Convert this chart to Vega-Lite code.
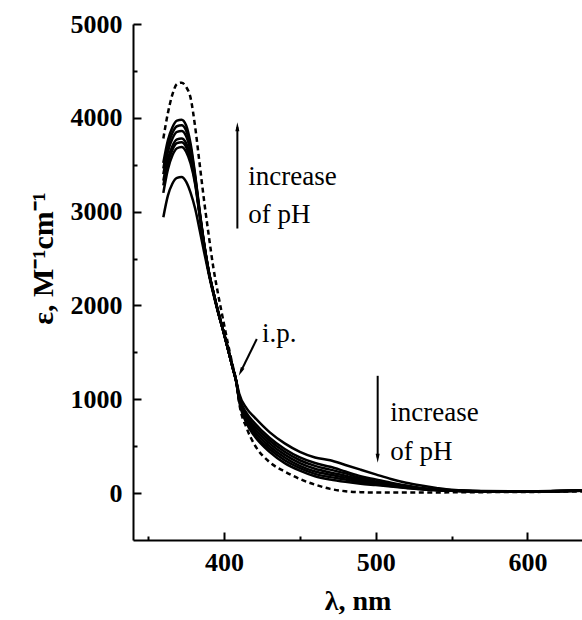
{
  "$schema": "https://vega.github.io/schema/vega-lite/v6.json",
  "autosize": "none",
  "width": 449,
  "height": 516,
  "padding": {"left": 133, "top": 24, "right": 0, "bottom": 80},
  "background": "white",
  "config": {
    "view": {"stroke": null},
    "axis": {
      "grid": false,
      "domainColor": "black",
      "domainWidth": 2,
      "tickColor": "black",
      "tickWidth": 2,
      "labelFont": "Liberation Serif",
      "labelFontSize": 26,
      "labelFontWeight": "bold",
      "labelColor": "black",
      "titleFont": "Liberation Serif",
      "titleFontWeight": "bold",
      "titleColor": "black",
      "labelOverlap": false,
      "labelFlush": false
    }
  },
  "datasets": {
    "curves": [
      {"s":"S1","nm":360,"e":3520},{"s":"S1","nm":363,"e":3760},{"s":"S1","nm":366,"e":3900},{"s":"S1","nm":369,"e":3970},{"s":"S1","nm":372,"e":3980},{"s":"S1","nm":375,"e":3920},{"s":"S1","nm":378,"e":3720},{"s":"S1","nm":381,"e":3390},{"s":"S1","nm":384,"e":3000},{"s":"S1","nm":387,"e":2650},{"s":"S1","nm":390,"e":2360},{"s":"S1","nm":393,"e":2140},{"s":"S1","nm":396,"e":1940},{"s":"S1","nm":400,"e":1700},{"s":"S1","nm":403,"e":1510},{"s":"S1","nm":406,"e":1320},{"s":"S1","nm":408,"e":1190},{"s":"S1","nm":410,"e":980},{"s":"S1","nm":415,"e":740},{"s":"S1","nm":420,"e":610},{"s":"S1","nm":430,"e":440},{"s":"S1","nm":440,"e":320},{"s":"S1","nm":450,"e":240},{"s":"S1","nm":460,"e":180},{"s":"S1","nm":470,"e":145},{"s":"S1","nm":480,"e":120},{"s":"S1","nm":490,"e":100},{"s":"S1","nm":500,"e":85},{"s":"S1","nm":510,"e":70},{"s":"S1","nm":520,"e":55},{"s":"S1","nm":530,"e":40},{"s":"S1","nm":540,"e":30},{"s":"S1","nm":550,"e":24},{"s":"S1","nm":570,"e":19},{"s":"S1","nm":600,"e":18},{"s":"S1","nm":636,"e":26},
      {"s":"S2","nm":360,"e":3460},{"s":"S2","nm":363,"e":3700},{"s":"S2","nm":366,"e":3840},{"s":"S2","nm":369,"e":3910},{"s":"S2","nm":372,"e":3920},{"s":"S2","nm":375,"e":3865},{"s":"S2","nm":378,"e":3680},{"s":"S2","nm":381,"e":3370},{"s":"S2","nm":384,"e":2990},{"s":"S2","nm":387,"e":2645},{"s":"S2","nm":390,"e":2360},{"s":"S2","nm":393,"e":2140},{"s":"S2","nm":396,"e":1940},{"s":"S2","nm":400,"e":1700},{"s":"S2","nm":403,"e":1510},{"s":"S2","nm":406,"e":1320},{"s":"S2","nm":408,"e":1190},{"s":"S2","nm":410,"e":990},{"s":"S2","nm":415,"e":760},{"s":"S2","nm":420,"e":630},{"s":"S2","nm":430,"e":470},{"s":"S2","nm":440,"e":350},{"s":"S2","nm":450,"e":265},{"s":"S2","nm":460,"e":205},{"s":"S2","nm":470,"e":170},{"s":"S2","nm":480,"e":145},{"s":"S2","nm":490,"e":115},{"s":"S2","nm":500,"e":95},{"s":"S2","nm":510,"e":75},{"s":"S2","nm":520,"e":58},{"s":"S2","nm":530,"e":42},{"s":"S2","nm":540,"e":32},{"s":"S2","nm":550,"e":25},{"s":"S2","nm":570,"e":19},{"s":"S2","nm":600,"e":18},{"s":"S2","nm":636,"e":26},
      {"s":"S3","nm":360,"e":3400},{"s":"S3","nm":363,"e":3640},{"s":"S3","nm":366,"e":3780},{"s":"S3","nm":369,"e":3850},{"s":"S3","nm":372,"e":3860},{"s":"S3","nm":375,"e":3805},{"s":"S3","nm":378,"e":3640},{"s":"S3","nm":381,"e":3350},{"s":"S3","nm":384,"e":2980},{"s":"S3","nm":387,"e":2640},{"s":"S3","nm":390,"e":2355},{"s":"S3","nm":393,"e":2140},{"s":"S3","nm":396,"e":1940},{"s":"S3","nm":400,"e":1700},{"s":"S3","nm":403,"e":1510},{"s":"S3","nm":406,"e":1320},{"s":"S3","nm":408,"e":1195},{"s":"S3","nm":410,"e":1000},{"s":"S3","nm":415,"e":780},{"s":"S3","nm":420,"e":660},{"s":"S3","nm":430,"e":500},{"s":"S3","nm":440,"e":380},{"s":"S3","nm":450,"e":290},{"s":"S3","nm":460,"e":230},{"s":"S3","nm":470,"e":195},{"s":"S3","nm":480,"e":165},{"s":"S3","nm":490,"e":130},{"s":"S3","nm":500,"e":105},{"s":"S3","nm":510,"e":82},{"s":"S3","nm":520,"e":62},{"s":"S3","nm":530,"e":45},{"s":"S3","nm":540,"e":33},{"s":"S3","nm":550,"e":26},{"s":"S3","nm":570,"e":20},{"s":"S3","nm":600,"e":18},{"s":"S3","nm":636,"e":27},
      {"s":"S4","nm":360,"e":3330},{"s":"S4","nm":363,"e":3560},{"s":"S4","nm":366,"e":3700},{"s":"S4","nm":369,"e":3770},{"s":"S4","nm":372,"e":3780},{"s":"S4","nm":375,"e":3730},{"s":"S4","nm":378,"e":3580},{"s":"S4","nm":381,"e":3330},{"s":"S4","nm":384,"e":2970},{"s":"S4","nm":387,"e":2635},{"s":"S4","nm":390,"e":2355},{"s":"S4","nm":393,"e":2140},{"s":"S4","nm":396,"e":1940},{"s":"S4","nm":400,"e":1700},{"s":"S4","nm":403,"e":1510},{"s":"S4","nm":406,"e":1320},{"s":"S4","nm":408,"e":1195},{"s":"S4","nm":410,"e":1010},{"s":"S4","nm":415,"e":800},{"s":"S4","nm":420,"e":690},{"s":"S4","nm":430,"e":530},{"s":"S4","nm":440,"e":410},{"s":"S4","nm":450,"e":320},{"s":"S4","nm":460,"e":260},{"s":"S4","nm":470,"e":220},{"s":"S4","nm":480,"e":185},{"s":"S4","nm":490,"e":145},{"s":"S4","nm":500,"e":115},{"s":"S4","nm":510,"e":90},{"s":"S4","nm":520,"e":68},{"s":"S4","nm":530,"e":48},{"s":"S4","nm":540,"e":35},{"s":"S4","nm":550,"e":27},{"s":"S4","nm":570,"e":20},{"s":"S4","nm":600,"e":18},{"s":"S4","nm":636,"e":27},
      {"s":"S5","nm":360,"e":3280},{"s":"S5","nm":363,"e":3520},{"s":"S5","nm":366,"e":3660},{"s":"S5","nm":369,"e":3730},{"s":"S5","nm":372,"e":3740},{"s":"S5","nm":375,"e":3690},{"s":"S5","nm":378,"e":3550},{"s":"S5","nm":381,"e":3310},{"s":"S5","nm":384,"e":2960},{"s":"S5","nm":387,"e":2630},{"s":"S5","nm":390,"e":2350},{"s":"S5","nm":393,"e":2135},{"s":"S5","nm":396,"e":1940},{"s":"S5","nm":400,"e":1700},{"s":"S5","nm":403,"e":1510},{"s":"S5","nm":406,"e":1320},{"s":"S5","nm":408,"e":1195},{"s":"S5","nm":410,"e":1020},{"s":"S5","nm":415,"e":820},{"s":"S5","nm":420,"e":720},{"s":"S5","nm":430,"e":560},{"s":"S5","nm":440,"e":440},{"s":"S5","nm":450,"e":350},{"s":"S5","nm":460,"e":290},{"s":"S5","nm":470,"e":250},{"s":"S5","nm":480,"e":210},{"s":"S5","nm":490,"e":160},{"s":"S5","nm":500,"e":125},{"s":"S5","nm":510,"e":100},{"s":"S5","nm":520,"e":75},{"s":"S5","nm":530,"e":50},{"s":"S5","nm":540,"e":38},{"s":"S5","nm":550,"e":28},{"s":"S5","nm":570,"e":20},{"s":"S5","nm":600,"e":18},{"s":"S5","nm":636,"e":28},
      {"s":"S6","nm":360,"e":3200},{"s":"S6","nm":363,"e":3450},{"s":"S6","nm":366,"e":3600},{"s":"S6","nm":369,"e":3675},{"s":"S6","nm":372,"e":3690},{"s":"S6","nm":375,"e":3640},{"s":"S6","nm":378,"e":3510},{"s":"S6","nm":381,"e":3290},{"s":"S6","nm":384,"e":2950},{"s":"S6","nm":387,"e":2625},{"s":"S6","nm":390,"e":2350},{"s":"S6","nm":393,"e":2135},{"s":"S6","nm":396,"e":1935},{"s":"S6","nm":400,"e":1700},{"s":"S6","nm":403,"e":1510},{"s":"S6","nm":406,"e":1320},{"s":"S6","nm":408,"e":1200},{"s":"S6","nm":410,"e":1030},{"s":"S6","nm":415,"e":850},{"s":"S6","nm":420,"e":750},{"s":"S6","nm":430,"e":590},{"s":"S6","nm":440,"e":470},{"s":"S6","nm":450,"e":380},{"s":"S6","nm":460,"e":320},{"s":"S6","nm":470,"e":280},{"s":"S6","nm":480,"e":230},{"s":"S6","nm":490,"e":180},{"s":"S6","nm":500,"e":145},{"s":"S6","nm":510,"e":110},{"s":"S6","nm":520,"e":80},{"s":"S6","nm":530,"e":55},{"s":"S6","nm":540,"e":40},{"s":"S6","nm":550,"e":30},{"s":"S6","nm":570,"e":20},{"s":"S6","nm":600,"e":18},{"s":"S6","nm":636,"e":28},
      {"s":"S7","nm":360,"e":2940},{"s":"S7","nm":363,"e":3170},{"s":"S7","nm":366,"e":3300},{"s":"S7","nm":369,"e":3360},{"s":"S7","nm":372,"e":3370},{"s":"S7","nm":375,"e":3320},{"s":"S7","nm":378,"e":3200},{"s":"S7","nm":381,"e":3030},{"s":"S7","nm":384,"e":2800},{"s":"S7","nm":387,"e":2560},{"s":"S7","nm":390,"e":2330},{"s":"S7","nm":393,"e":2120},{"s":"S7","nm":396,"e":1930},{"s":"S7","nm":400,"e":1700},{"s":"S7","nm":403,"e":1510},{"s":"S7","nm":406,"e":1320},{"s":"S7","nm":408,"e":1200},{"s":"S7","nm":410,"e":1060},{"s":"S7","nm":415,"e":900},{"s":"S7","nm":420,"e":810},{"s":"S7","nm":430,"e":650},{"s":"S7","nm":440,"e":530},{"s":"S7","nm":450,"e":440},{"s":"S7","nm":460,"e":380},{"s":"S7","nm":470,"e":350},{"s":"S7","nm":480,"e":300},{"s":"S7","nm":490,"e":250},{"s":"S7","nm":500,"e":200},{"s":"S7","nm":510,"e":150},{"s":"S7","nm":520,"e":110},{"s":"S7","nm":530,"e":80},{"s":"S7","nm":540,"e":55},{"s":"S7","nm":550,"e":35},{"s":"S7","nm":570,"e":22},{"s":"S7","nm":600,"e":20},{"s":"S7","nm":636,"e":30},
      {"s":"D","nm":360,"e":3780},{"s":"D","nm":363,"e":4050},{"s":"D","nm":366,"e":4250},{"s":"D","nm":369,"e":4360},{"s":"D","nm":372,"e":4375},{"s":"D","nm":375,"e":4330},{"s":"D","nm":378,"e":4210},{"s":"D","nm":381,"e":3900},{"s":"D","nm":384,"e":3500},{"s":"D","nm":387,"e":3100},{"s":"D","nm":390,"e":2740},{"s":"D","nm":393,"e":2400},{"s":"D","nm":396,"e":2130},{"s":"D","nm":400,"e":1800},{"s":"D","nm":403,"e":1560},{"s":"D","nm":406,"e":1340},{"s":"D","nm":408,"e":1200},{"s":"D","nm":410,"e":960},{"s":"D","nm":415,"e":690},{"s":"D","nm":420,"e":520},{"s":"D","nm":430,"e":330},{"s":"D","nm":440,"e":230},{"s":"D","nm":450,"e":150},{"s":"D","nm":460,"e":90},{"s":"D","nm":470,"e":45},{"s":"D","nm":480,"e":20},{"s":"D","nm":490,"e":10},{"s":"D","nm":500,"e":6},{"s":"D","nm":510,"e":5},{"s":"D","nm":520,"e":5},{"s":"D","nm":530,"e":5},{"s":"D","nm":540,"e":6},{"s":"D","nm":550,"e":8},{"s":"D","nm":570,"e":10},{"s":"D","nm":600,"e":12},{"s":"D","nm":636,"e":18}
    ],
    "labels": [
      {"nm": 416, "e": 3280, "t": "increase"},
      {"nm": 416, "e": 2874, "t": "of pH"},
      {"nm": 509.6, "e": 770, "t": "increase"},
      {"nm": 509.6, "e": 350, "t": "of pH"},
      {"nm": 425, "e": 1606, "t": "i.p."}
    ],
    "shafts": [
      {"nm": 408.8, "e": 2820, "nm2": 408.8, "e2": 3900},
      {"nm": 501.3, "e": 1250, "nm2": 501.3, "e2": 380},
      {"nm": 421.6, "e": 1642, "nm2": 411.0, "e2": 1293}
    ],
    "heads": [
      {"nm": 408.8, "e": 3905, "a": 0},
      {"nm": 501.3, "e": 372, "a": 180},
      {"nm": 411.0, "e": 1293, "a": 206}
    ]
  },
  "layer": [
    {
      "data": {"name": "curves"},
      "transform": [{"filter": "datum.s !== 'D'"}],
      "mark": {"type": "line", "color": "black", "strokeWidth": 2.5, "interpolate": "monotone", "clip": true},
      "encoding": {
        "x": {
          "field": "nm", "type": "quantitative",
          "scale": {"domain": [340, 636], "nice": false, "zero": false},
          "axis": {
            "title": "λ, nm",
            "titleFontSize": 28,
            "values": [350, 400, 450, 500, 550, 600],
            "format": "d",
            "labelExpr": "datum.value % 100 === 0 ? datum.label : ''",
            "tickSize": {"condition": {"test": "datum.value % 100 === 0", "value": -8}, "value": -4},
            "labelPadding": 17,
            "titlePadding": 8
          }
        },
        "y": {
          "field": "e", "type": "quantitative",
          "scale": {"domain": [-500, 5000], "nice": false, "zero": false},
          "axis": {
            "title": "ε, M⁻¹cm⁻¹",
            "titleFontSize": 30,
            "titleY": 234,
            "values": [0, 500, 1000, 1500, 2000, 2500, 3000, 3500, 4000, 4500, 5000],
            "format": "d",
            "labelExpr": "datum.value % 1000 === 0 ? datum.label : ''",
            "tickSize": {"condition": {"test": "datum.value % 1000 === 0", "value": -8}, "value": -4},
            "labelPadding": 19,
            "titlePadding": 12
          }
        },
        "detail": {"field": "s"}
      }
    },
    {
      "data": {"name": "curves"},
      "transform": [{"filter": "datum.s === 'D'"}],
      "mark": {"type": "line", "color": "black", "strokeWidth": 2.5, "strokeDash": [5, 3.5], "interpolate": "monotone", "clip": true},
      "encoding": {
        "x": {"field": "nm", "type": "quantitative"},
        "y": {"field": "e", "type": "quantitative"}
      }
    },
    {
      "data": {"name": "shafts"},
      "mark": {"type": "rule", "color": "black", "strokeWidth": 2},
      "encoding": {
        "x": {"field": "nm", "type": "quantitative"},
        "y": {"field": "e", "type": "quantitative"},
        "x2": {"field": "nm2"},
        "y2": {"field": "e2"}
      }
    },
    {
      "data": {"name": "heads"},
      "mark": {"type": "point", "shape": "M0,-1L0.45,1L-0.45,1Z", "filled": true, "color": "black", "size": 80, "opacity": 1},
      "encoding": {
        "x": {"field": "nm", "type": "quantitative"},
        "y": {"field": "e", "type": "quantitative"},
        "angle": {"field": "a", "type": "quantitative", "scale": null}
      }
    },
    {
      "data": {"name": "labels"},
      "mark": {"type": "text", "align": "left", "baseline": "alphabetic", "font": "Liberation Serif", "fontSize": 27, "color": "black"},
      "encoding": {
        "x": {"field": "nm", "type": "quantitative"},
        "y": {"field": "e", "type": "quantitative"},
        "text": {"field": "t"}
      }
    }
  ]
}
